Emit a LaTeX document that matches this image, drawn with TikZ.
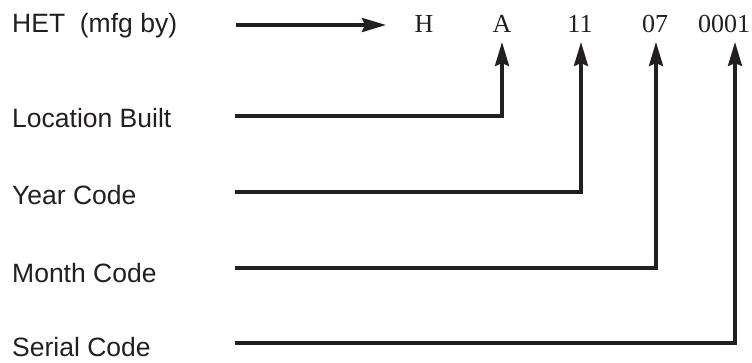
\documentclass[tikz,border=0pt]{standalone}
\usepackage{fontspec}
\setmainfont{Liberation Serif}
\newfontfamily\labfont{Liberation Sans}
\usetikzlibrary{arrows.meta}
\definecolor{ink}{HTML}{231F20}
\begin{document}
\begin{tikzpicture}[x=1pt,y=-1pt,
  lab/.style={anchor=base west,inner sep=0pt,font=\labfont\fontsize{26.5}{30}\selectfont,text=ink},
  code/.style={anchor=base,inner sep=0pt,font=\fontsize{26}{30}\selectfont,text=ink},
  conn/.style={draw=ink,line width=3.4pt,line join=miter,-{Stealth[length=24pt,width=14pt,inset=3pt]}}]
\useasboundingbox (0,0) rectangle (752,362);
\node[lab] (het) at (12,32) {HET\ \ (mfg by)};
\node[lab] (loc) at (12,127) {Location Built};
\node[lab] (year) at (12,204) {Year Code};
\node[lab] (month) at (12,282) {Month Code};
\node[lab] (serial) at (12,356) {Serial Code};
\node[code] (cH) at (424,32) {H};
\node[code] (cA) at (502,32) {A};
\node[code] (c11) at (580,32) {11};
\node[code] (c07) at (655,32) {07};
\node[code] (c0001) at (724,32) {0001};
\coordinate (s0) at (236,25);
\coordinate (t0) at (386,25);
\coordinate (s1) at (235,116);
\coordinate (s2) at (235,192);
\coordinate (s3) at (235,268);
\coordinate (s4) at (235,343);
\coordinate (tA) at (502,42);
\coordinate (t11) at (581,42);
\coordinate (t07) at (656,42);
\coordinate (t0001) at (735,42);
\draw[conn] (s0) -- (t0);
\draw[conn] (s1) -| (tA);
\draw[conn] (s2) -| (t11);
\draw[conn] (s3) -| (t07);
\draw[conn] (s4) -| (t0001);
\end{tikzpicture}
\end{document}
